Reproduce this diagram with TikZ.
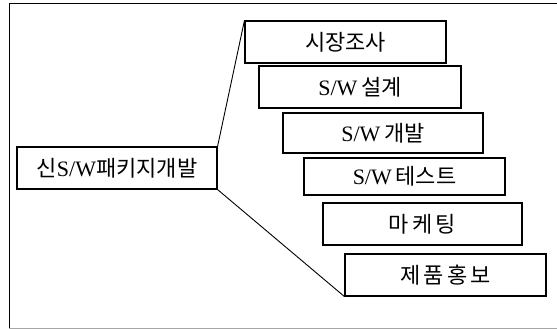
\documentclass[tikz,border=0pt]{standalone}
\usepackage{fontspec}
\setmainfont{Liberation Serif}
\newfontfamily\kr{Noto Sans CJK KR}
\newfontfamily\krw[LetterSpace=15]{Noto Sans CJK KR}
\begin{document}
\begin{tikzpicture}[x=1pt,y=-1pt,
  stepbox/.style={draw, line width=1.1pt, fill=white, inner sep=0pt, font=\fontsize{22}{24}\selectfont},
  link/.style={line width=0.9pt}]
\useasboundingbox (0,0) rectangle (557,329);
% frame
\draw[line width=1pt] (557,4) -- (9,4) -- (9,328);
\draw[line width=0.8pt, black!35] (9,328) -- (557,328);
% step boxes
\node[stepbox, minimum width=201pt, minimum height=42pt] (s1) at (345.5,42) {\kr 시장조사};
\node[stepbox, minimum width=202pt, minimum height=42pt] (s2) at (360,87) {S/W\,\kr 설계};
\node[stepbox, minimum width=200pt, minimum height=40pt] (s3) at (383,133) {S/W\,\kr 개발};
\node[stepbox, minimum width=201pt, minimum height=37pt] (s4) at (404.5,176.5) {S/W\,\kr 테스트};
\node[stepbox, minimum width=199pt, minimum height=42pt] (s5) at (422.5,224) {\krw 마케팅\hspace{-3.3pt}};
\node[stepbox, minimum width=201pt, minimum height=42pt] (s6) at (445.5,275) {\krw 제품홍보\hspace{-3.3pt}};
% main box
\node[stepbox, minimum width=200pt, minimum height=42pt] (m) at (117,168) {\kr 신\rmfamily S/W\kr 패키지개발};
% connectors
\draw[link] (m.north east) -- (s1.north west);
\draw[link] (m.south east) -- (s6.south west);
\end{tikzpicture}
\end{document}
